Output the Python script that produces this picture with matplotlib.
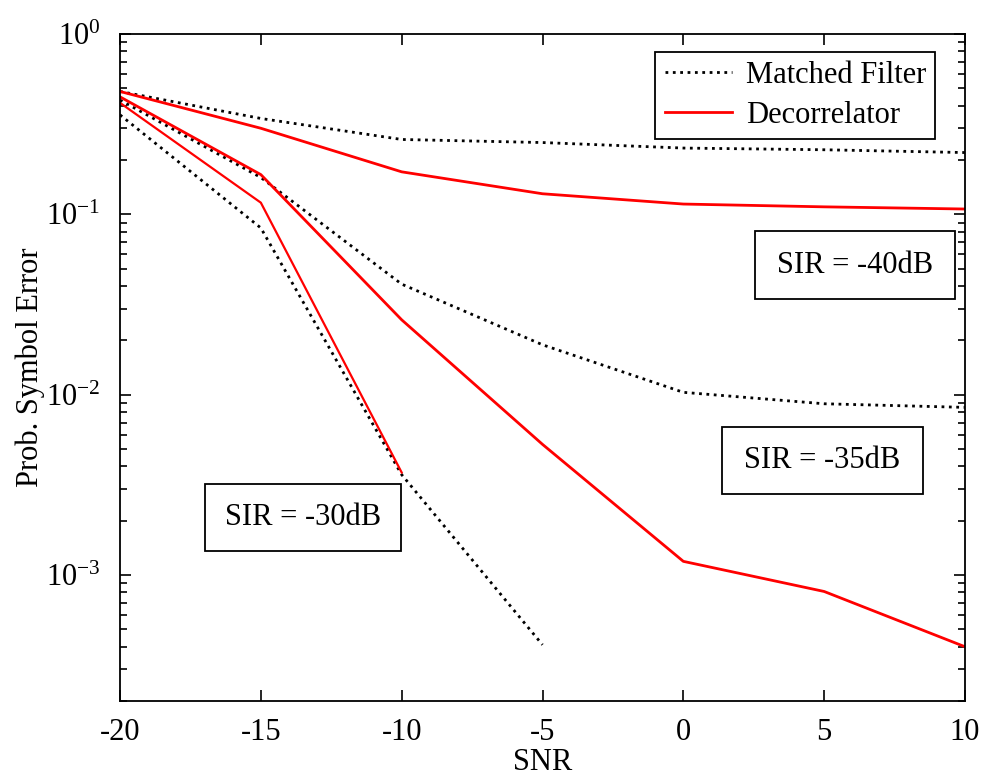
import numpy as np
import matplotlib
matplotlib.use('Agg')
import matplotlib.pyplot as plt
from matplotlib.patches import Rectangle

plt.rcParams['font.family'] = 'serif'
plt.rcParams['font.serif'] = ['Liberation Serif', 'DejaVu Serif']
plt.rcParams['mathtext.fontset'] = 'custom'
plt.rcParams['mathtext.rm'] = 'Liberation Serif'
plt.rcParams['mathtext.it'] = 'Liberation Serif'

# SNR points (dB)
snr = [-20, -15, -10, -5, 0, 5, 10]

# SIR = -40dB
mf_40 = [0.48, 0.34, 0.26, 0.25, 0.233, 0.228, 0.22]
dec_40 = [0.48, 0.30, 0.172, 0.13, 0.114, 0.11, 0.107]

# SIR = -35dB
mf_35 = [0.43, 0.16, 0.041, 0.0189, 0.0103, 0.0089, 0.0085]
dec_35 = [0.448, 0.166, 0.026, 0.0053, 0.00119, 0.00081, 0.0004]

# SIR = -30dB (curves stop once no errors are counted)
snr_mf_30 = [-20, -15, -10, -5]
mf_30 = [0.356, 0.084, 0.0036, 0.00041]
snr_dec_30 = [-20, -15, -10]
dec_30 = [0.415, 0.116, 0.0037]

labels = ['SIR = -40dB', 'SIR = -35dB', 'SIR = -30dB']

fs = 22

fig = plt.figure(figsize=(9.87, 7.81), dpi=100)
ax = fig.add_axes([0.1216, 0.1024, 0.8561, 0.8541])

ax.semilogy(snr, mf_40, ':', color='k', lw=2, label='Matched Filter')
ax.semilogy(snr, dec_40, '-', color='#ff0000', lw=2, label='Decorrelator')
ax.semilogy(snr, mf_35, ':', color='k', lw=2)
ax.semilogy(snr, dec_35, '-', color='#ff0000', lw=2)
ax.semilogy(snr_mf_30, mf_30, ':', color='k', lw=2)
ax.semilogy(snr_dec_30, dec_30, '-', color='#ff0000', lw=1.6)

ax.set_xlim(-20, 10)
ax.set_ylim(2e-4, 1)
ax.set_xticks(snr)
ax.set_xticklabels(['-20', '-15', '-10', '-5', '0', '5', '10'])
ax.tick_params(which='both', direction='in', top=True, right=True,
               labelsize=fs, width=1.2)
ax.tick_params(axis='x', pad=12)
ax.tick_params(axis='y', pad=14)
ax.tick_params(which='major', length=8)
ax.tick_params(which='minor', length=5)
for s in ax.spines.values():
    s.set_linewidth(1.3)

ax.set_xlabel('SNR', fontsize=fs, labelpad=1)
ax.set_ylabel('Prob. Symbol Error', fontsize=fs, labelpad=1)

leg = ax.legend(loc='upper right', bbox_to_anchor=(0.9645, 0.973), fontsize=fs,
                fancybox=False, edgecolor='k', framealpha=1, handlelength=2.2,
                borderpad=0.3, labelspacing=0.35, handletextpad=0.45,
                borderaxespad=0)
leg.get_frame().set_linewidth(1.3)

# annotation boxes (axes fraction)
boxes = [(0.751, 0.603, 0.237, 0.101), (0.713, 0.310, 0.237, 0.101),
         (0.1, 0.225, 0.233, 0.101)]
for (x0, y0, w, h), txt in zip(boxes, labels):
    ax.add_patch(Rectangle((x0, y0), w, h, transform=ax.transAxes,
                           fill=True, facecolor='white', edgecolor='k', lw=1.3, zorder=3))
    ax.text(x0 + w / 2, y0 + h / 2, txt, transform=ax.transAxes, fontsize=fs,
            ha='center', va='center', zorder=4)

fig.savefig('out.png', dpi=100)
